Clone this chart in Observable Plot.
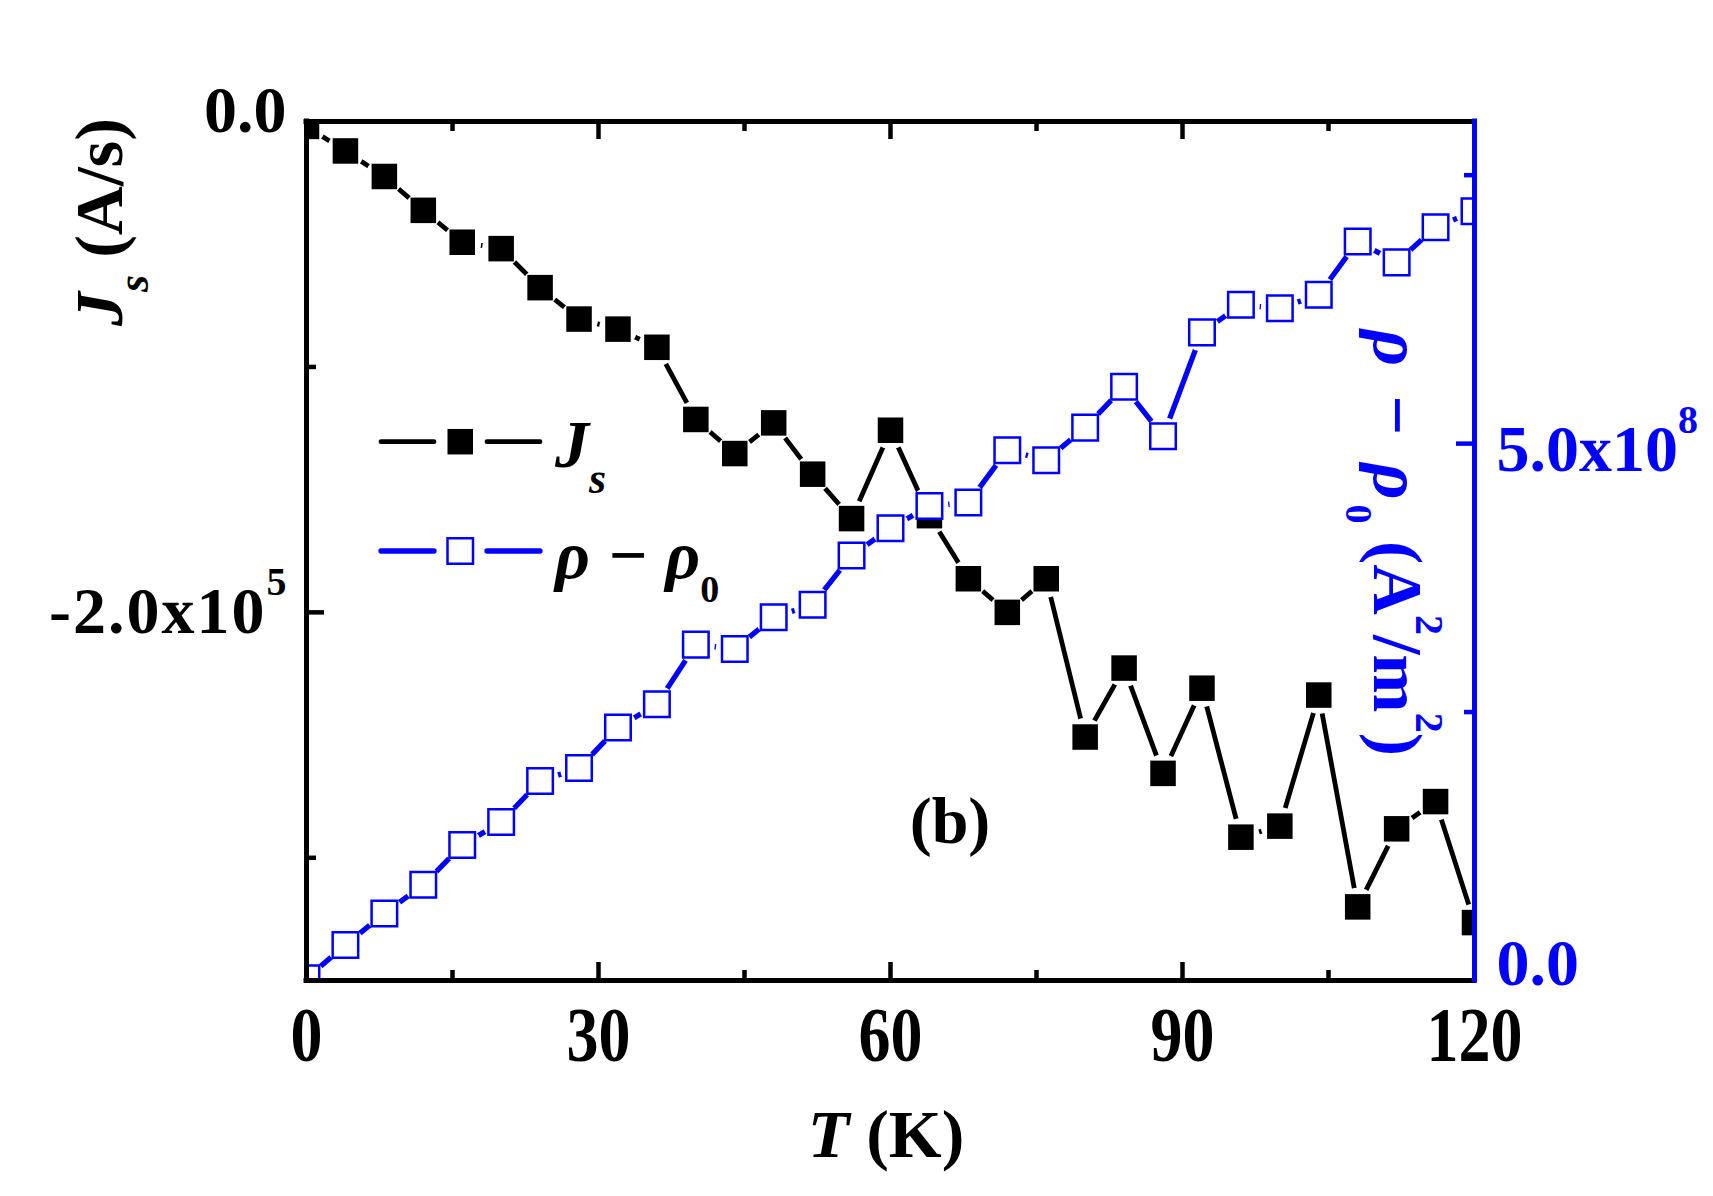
<!DOCTYPE html>
<html>
<head>
<meta charset="utf-8">
<script src="https://cdn.jsdelivr.net/npm/d3@7"></script>
<script src="https://cdn.jsdelivr.net/npm/@observablehq/plot@0.6"></script>
<style>
  html, body { margin: 0; padding: 0; background: #ffffff; }
  #chart svg { display: block; }
</style>
</head>
<body>
<div id="chart"></div>
<script>
// ---------------- data ----------------
const T = [0, 4, 8, 12, 16, 20, 24, 28, 32, 36, 40, 44, 48, 52, 56, 60,
           64, 68, 72, 76, 80, 84, 88, 92, 96, 100, 104, 108, 112, 116, 120];
// J_s (A/s)
const Js = [-2000, -12000, -22400, -36200, -49200, -51800, -67700, -80500, -84600, -92000,
            -121400, -135300, -122800, -143700, -161800, -125800,
            -160600, -186300, -200000, -186300, -250800, -222700, -265600, -230900,
            -291600, -287100, -233700, -320000, -288200, -277100, -326400];
// rho - rho0 (A^2/m^2)
const rho = [2e6, 3.30e7, 6.25e7, 8.91e7, 1.261e8, 1.477e8, 1.858e8, 1.978e8, 2.357e8, 2.573e8,
             3.128e8, 3.088e8, 3.384e8, 3.50e8, 3.959e8, 4.212e8,
             4.420e8, 4.451e8, 4.939e8, 4.845e8, 5.149e8, 5.530e8, 5.069e8, 6.036e8,
             6.293e8, 6.260e8, 6.386e8, 6.883e8, 6.688e8, 7.016e8, 7.165e8];

const xTicks = [0, 30, 60, 90, 120];
const xMinorTicks = [15, 45, 75, 105];
const leftTicks = [0, -2e5];
const leftMinorTicks = [-1e5, -3e5];
const leftTickLabels = ["0.0", "-2.0x10^5"];
const rightTicks = [0, 5e8];
const rightMinorTicks = [2.5e8, 7.5e8];
const rightTickLabels = ["0.0", "5.0x10^8"];

const xDomain = [0, 120];
const jDomain = [-3.5e5, 0];
const rhoDomain = [0, 8e8];

// ---------------- layout ----------------
const W = 1713, H = 1196;
const mL = 306, mR = W - 1474, mT = 121, mB = H - 980;
const plotW = W - mL - mR, plotH = H - mT - mB;
const FONT = "'Liberation Serif', 'Times New Roman', Times, serif";
const BLUE = "#0000ff";
const majorLen = 18, minorLen = 10;

// right axis values mapped onto the left (J) scale
const rhoToJ = d3.scaleLinear().domain(rhoDomain).range(jDomain);
const jsData = T.map((t, i) => ({T: t, v: Js[i]}));
const rhoData = T.map((t, i) => ({T: t, v: rhoToJ(rho[i])}));
const rightTicksJ = rightTicks.map(rhoToJ);
const rightMinorJ = rightMinorTicks.map(rhoToJ);

const nearestLabel = (vals, labels) => d => {
  let best = 0;
  vals.forEach((v, i) => { if (Math.abs(v - d) < Math.abs(vals[best] - d)) best = i; });
  return labels[best];
};

const chart = Plot.plot({
  width: W, height: H,
  marginLeft: mL, marginRight: mR, marginTop: mT, marginBottom: mB,
  style: {fontFamily: FONT, fontWeight: "bold", background: "#ffffff", color: "black", overflow: "visible"},
  x: {domain: xDomain},
  y: {domain: jDomain},
  marks: [
    // J_s series
    Plot.line(jsData, {x: "T", y: "v", stroke: "black", strokeWidth: 4.8, strokeLinecap: "round", clip: true}),
    Plot.dot(jsData, {x: "T", y: "v", r: 19, fill: "white", stroke: null, clip: true}),
    // rho series
    Plot.line(rhoData, {x: "T", y: "v", stroke: BLUE, strokeWidth: 5.3, strokeLinecap: "round", clip: true}),
    Plot.dot(rhoData, {x: "T", y: "v", r: 19, fill: "white", stroke: null, clip: true}),
    // markers
    Plot.dot(jsData, {x: "T", y: "v", symbol: "square", r: 14.4, fill: "black", stroke: null, clip: true}),
    Plot.dot(rhoData, {x: "T", y: "v", symbol: "square", r: 14.4, fill: "white", stroke: BLUE, strokeWidth: 2.5, clip: true}),
    // inward ticks: bottom
    Plot.ruleX(xTicks, {stroke: "black", strokeWidth: 4.5, insetTop: plotH - majorLen}),
    Plot.ruleX(xMinorTicks, {stroke: "black", strokeWidth: 4.5, insetTop: plotH - minorLen}),
    // top
    Plot.ruleX(xTicks, {stroke: "black", strokeWidth: 4.5, insetBottom: plotH - majorLen}),
    Plot.ruleX(xMinorTicks, {stroke: "black", strokeWidth: 4.5, insetBottom: plotH - minorLen}),
    // left
    Plot.ruleY(leftTicks, {stroke: "black", strokeWidth: 4.5, insetRight: plotW - majorLen}),
    Plot.ruleY(leftMinorTicks, {stroke: "black", strokeWidth: 4.5, insetRight: plotW - minorLen}),
    // right
    Plot.ruleY(rightTicksJ, {stroke: BLUE, strokeWidth: 4.5, insetLeft: plotW - majorLen}),
    Plot.ruleY(rightMinorJ, {stroke: BLUE, strokeWidth: 4.5, insetLeft: plotW - minorLen}),
    // frame
    Plot.ruleY([jDomain[1]], {stroke: "black", strokeWidth: 5, strokeLinecap: "square"}),
    Plot.ruleY([jDomain[0]], {stroke: "black", strokeWidth: 5, strokeLinecap: "square"}),
    Plot.ruleX([xDomain[0]], {stroke: "black", strokeWidth: 5, strokeLinecap: "square"}),
    Plot.ruleX([xDomain[1]], {stroke: BLUE, strokeWidth: 5, strokeLinecap: "square"}),
    // tick labels
    Plot.axisX({ticks: xTicks, tickSize: 0, tickPadding: 25, fontSize: 78, fontWeight: "bold",
                tickFormat: d => String(d), label: null, fill: "black"}),
    Plot.axisY({ticks: leftTicks, anchor: "left", tickSize: 0, tickPadding: 20, fontSize: 66, fontWeight: "bold",
                tickFormat: nearestLabel(leftTicks, leftTickLabels), label: null, fill: "black"}),
    Plot.axisY({ticks: rightTicksJ, anchor: "right", tickSize: 0, tickPadding: 22, fontSize: 66, fontWeight: "bold",
                tickFormat: nearestLabel(rightTicksJ, rightTickLabels), label: null, fill: BLUE})
  ]
});

document.getElementById("chart").appendChild(chart);
const svg = d3.select(chart);

// find the text-anchor in effect for an element
function anchorOf(el) {
  let n = el;
  while (n && n.getAttribute) {
    const a = n.getAttribute("text-anchor");
    if (a) return a;
    n = n.parentNode;
  }
  return "start";
}
const labelShift = {"end|0.0": -11, "start|0.0": -17, "start|5.0x10^8": 6};

// superscript exponents in tick labels, small vertical adjustments
svg.selectAll('g[aria-label="y-axis tick label"] text').each(function () {
  const s = this.textContent;
  const anchor = anchorOf(this);
  const key = anchor + "|" + s;
  const t = this.getAttribute("transform");
  if (labelShift[key] && t && t.includes("translate")) {
    this.setAttribute("transform", t + ` translate(0,${labelShift[key]})`);
  }
  const m = s.match(/^(.*)\^(\d+)$/);
  if (m) {
    const el = d3.select(this);
    el.selectAll("*").remove();
    el.text(null);
    const base = el.append("tspan").text(m[1]);
    if (anchor === "end") base.attr("letter-spacing", 2);
    el.append("tspan").attr("dy", -38).attr("font-size", 40).text(m[2]);
  }
});
// slightly condensed x tick labels
svg.selectAll('g[aria-label="x-axis tick label"] text').each(function () {
  const t = this.getAttribute("transform");
  if (t && t.includes("translate")) this.setAttribute("transform", t + " scale(0.82,1)");
});

// ---------------- titles, legend, panel label ----------------
const g = svg.append("g").attr("font-family", FONT).attr("font-weight", "bold");

const xt = g.append("text").attr("x", 886).attr("y", 1157).attr("text-anchor", "middle")
  .attr("font-size", 68).attr("fill", "black");
xt.append("tspan").attr("font-style", "italic").text("T");
xt.append("tspan").text(" (K)");

const lt = g.append("text").attr("transform", "translate(122,222) rotate(-90)")
  .attr("text-anchor", "middle").attr("font-size", 68).attr("fill", "black");
lt.append("tspan").attr("font-style", "italic").text("J");
lt.append("tspan").attr("font-style", "italic").attr("font-size", 44).attr("dy", 26).text("s");
lt.append("tspan").attr("dy", -26).text(" (A/s)");

const rt = g.append("text").attr("transform", "translate(1374,543) rotate(90)")
  .attr("text-anchor", "middle").attr("font-size", 70).attr("fill", BLUE);
rt.append("tspan").attr("font-style", "italic").attr("letter-spacing", 5).text("\u03C1 \u2212 \u03C1");
rt.append("tspan").attr("font-size", 38).attr("dy", 28).text("0");
rt.append("tspan").attr("dy", -28).text(" (A");
rt.append("tspan").attr("font-size", 40).attr("dy", -42).text("2");
rt.append("tspan").attr("dy", 42).text("/m");
rt.append("tspan").attr("font-size", 40).attr("dy", -42).text("2");
rt.append("tspan").attr("dy", 42).text(")");

// legend
const legend = g.append("g");
const rows = [
  {y: 441.7, color: "black", filled: true, sw: 4.8},
  {y: 551, color: BLUE, filled: false, sw: 5.3}
];
rows.forEach(r => {
  legend.append("line").attr("x1", 381).attr("x2", 434).attr("y1", r.y).attr("y2", r.y)
    .attr("stroke", r.color).attr("stroke-width", r.sw).attr("stroke-linecap", "round");
  legend.append("line").attr("x1", 487).attr("x2", 540).attr("y1", r.y).attr("y2", r.y)
    .attr("stroke", r.color).attr("stroke-width", r.sw).attr("stroke-linecap", "round");
  legend.append("rect").attr("x", 447.5).attr("y", r.y - 12.75).attr("width", 25.5).attr("height", 25.5)
    .attr("fill", r.filled ? r.color : "white").attr("stroke", r.filled ? "none" : r.color)
    .attr("stroke-width", 2.5);
});
const l1 = legend.append("text").attr("x", 555).attr("y", 467).attr("text-anchor", "start")
  .attr("font-size", 68).attr("fill", "black");
l1.append("tspan").attr("font-style", "italic").text("J");
l1.append("tspan").attr("font-style", "italic").attr("font-size", 44).attr("dy", 26).text("s");
const l2 = legend.append("text").attr("x", 555).attr("y", 578).attr("text-anchor", "start")
  .attr("font-size", 68).attr("fill", "black");
l2.append("tspan").attr("font-style", "italic").text("\u03C1 \u2212 \u03C1");
l2.append("tspan").attr("font-size", 38).attr("dy", 24).text("0");

// panel label
g.append("text").attr("x", 950).attr("y", 843).attr("text-anchor", "middle")
  .attr("font-size", 66).attr("fill", "black").text("(b)");
</script>
</body>
</html>
